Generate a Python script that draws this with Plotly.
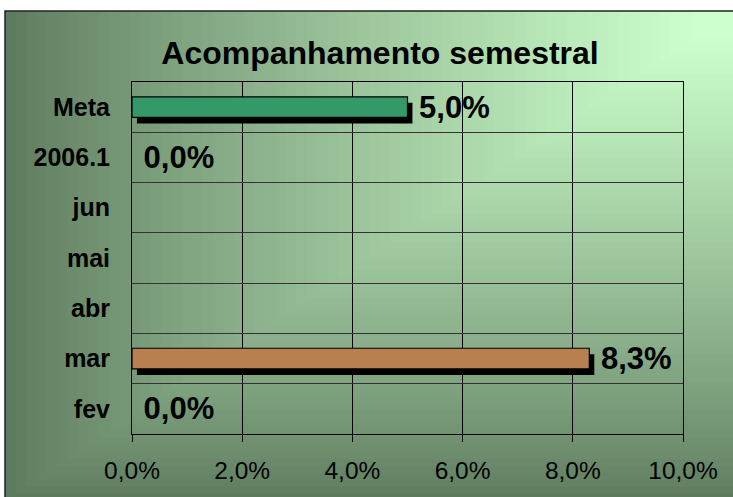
import plotly.graph_objects as go

# ---- data ----
categories = ["Meta", "2006.1", "jun", "mai", "abr", "mar", "fev"]
values = [0.05, 0.0, None, None, None, 0.083, 0.0]
bar_colors = ["#339966", "#339966", "#339966", "#339966", "#339966", "#b7804e", "#b7804e"]
x_ticks = [0, 0.02, 0.04, 0.06, 0.08, 0.10]
title_text = "Acompanhamento semestral"

# ---- geometry (pixels) ----
W, H = 733, 497
L, R, T, B = 132, 50, 82, 63
pw, ph = W - L - R, H - T - B

def px2x(px):
    return (px - L) / pw

def py2y(py):
    return (H - B - py) / ph

def hexrgb(h):
    h = h.lstrip("#")
    return [int(h[i:i + 2], 16) for i in (0, 2, 4)]

dark = hexrgb("#5d795d")
light = hexrgb("#ccffcc")

shapes = []
N = 70
cx, cy = 733, 11
for k in range(N, 0, -1):
    s = k / N
    f = min(1.0, (1 - (s - 0.5 / N)) / 0.95) ** 0.85
    col = [round(d + (l - d) * f) for d, l in zip(dark, light)]
    shapes.append(dict(
        type="rect", xref="paper", yref="paper", layer="below",
        x0=px2x(cx - s * 728), x1=px2x(cx + 5),
        y0=py2y(cy + s * 490), y1=py2y(cy),
        fillcolor="rgb(%d,%d,%d)" % tuple(col), line=dict(width=0),
    ))
# outer chart border
shapes.append(dict(type="rect", xref="paper", yref="paper", layer="below",
                   x0=px2x(5), x1=px2x(760), y0=py2y(520), y1=py2y(11),
                   line=dict(color="#222222", width=1.5), fillcolor="rgba(0,0,0,0)"))

bar_w = 0.41
shadow_dx = 0.0009
shadow_dy = 0.12

label_font = dict(family="Liberation Sans, Arial", size=31, color="black", weight="bold")
outline_w = [1.2 if v else 0 for v in values]

fig = go.Figure()
# shadow
fig.add_trace(go.Bar(
    y=categories, x=values, base=shadow_dx, orientation="h",
    width=bar_w, offset=-bar_w / 2 + shadow_dy,
    marker=dict(color="black", line=dict(width=0)),
    hoverinfo="skip", showlegend=False,
))
# main bars
fig.add_trace(go.Bar(
    y=categories, x=values, orientation="h",
    width=bar_w, offset=-bar_w / 2,
    marker=dict(color=bar_colors, line=dict(color="black", width=outline_w)),
    texttemplate="\u00a0%{x:.1%}", textposition="outside", constraintext="none",
    textfont=label_font, outsidetextfont=label_font,
    cliponaxis=False, showlegend=False,
))

fig.update_layout(
    width=W, height=H,
    margin=dict(l=L, r=R, t=T, b=B, autoexpand=False),
    paper_bgcolor="white", plot_bgcolor="rgba(0,0,0,0)",
    barmode="overlay", separators=",.",
    shapes=shapes,
    title=dict(text="<b>%s</b>" % title_text, x=380 / W, xanchor="center",
               y=1 - 53 / H, yanchor="middle", yref="container",
               font=dict(family="Liberation Sans, Arial", size=32, color="black")),
    font=dict(family="Liberation Sans, Arial", color="black"),
)
fig.update_xaxes(
    range=[0, 0.10], tickvals=x_ticks, tickformat=".1%",
    showgrid=True, gridcolor="black", gridwidth=1,
    showline=True, linecolor="black", linewidth=1, mirror=True,
    ticks="outside", ticklen=7, tickcolor="black",
    ticklabelstandoff=8, automargin=False,
    tickfont=dict(size=24.5, color="black"), zeroline=False,
)
fig.update_yaxes(
    type="category", categoryorder="array", categoryarray=categories,
    autorange="reversed", tickson="boundaries",
    showgrid=True, gridcolor="#333333", gridwidth=1,
    showline=True, linecolor="black", linewidth=1, mirror=True,
    ticks="", ticklabelstandoff=16, automargin=False,
    tickfont=dict(size=25, color="black", weight="bold"),
)

fig.write_html("out.html", config={"displayModeBar": False},
               post_script="document.body.style.margin='0';")
